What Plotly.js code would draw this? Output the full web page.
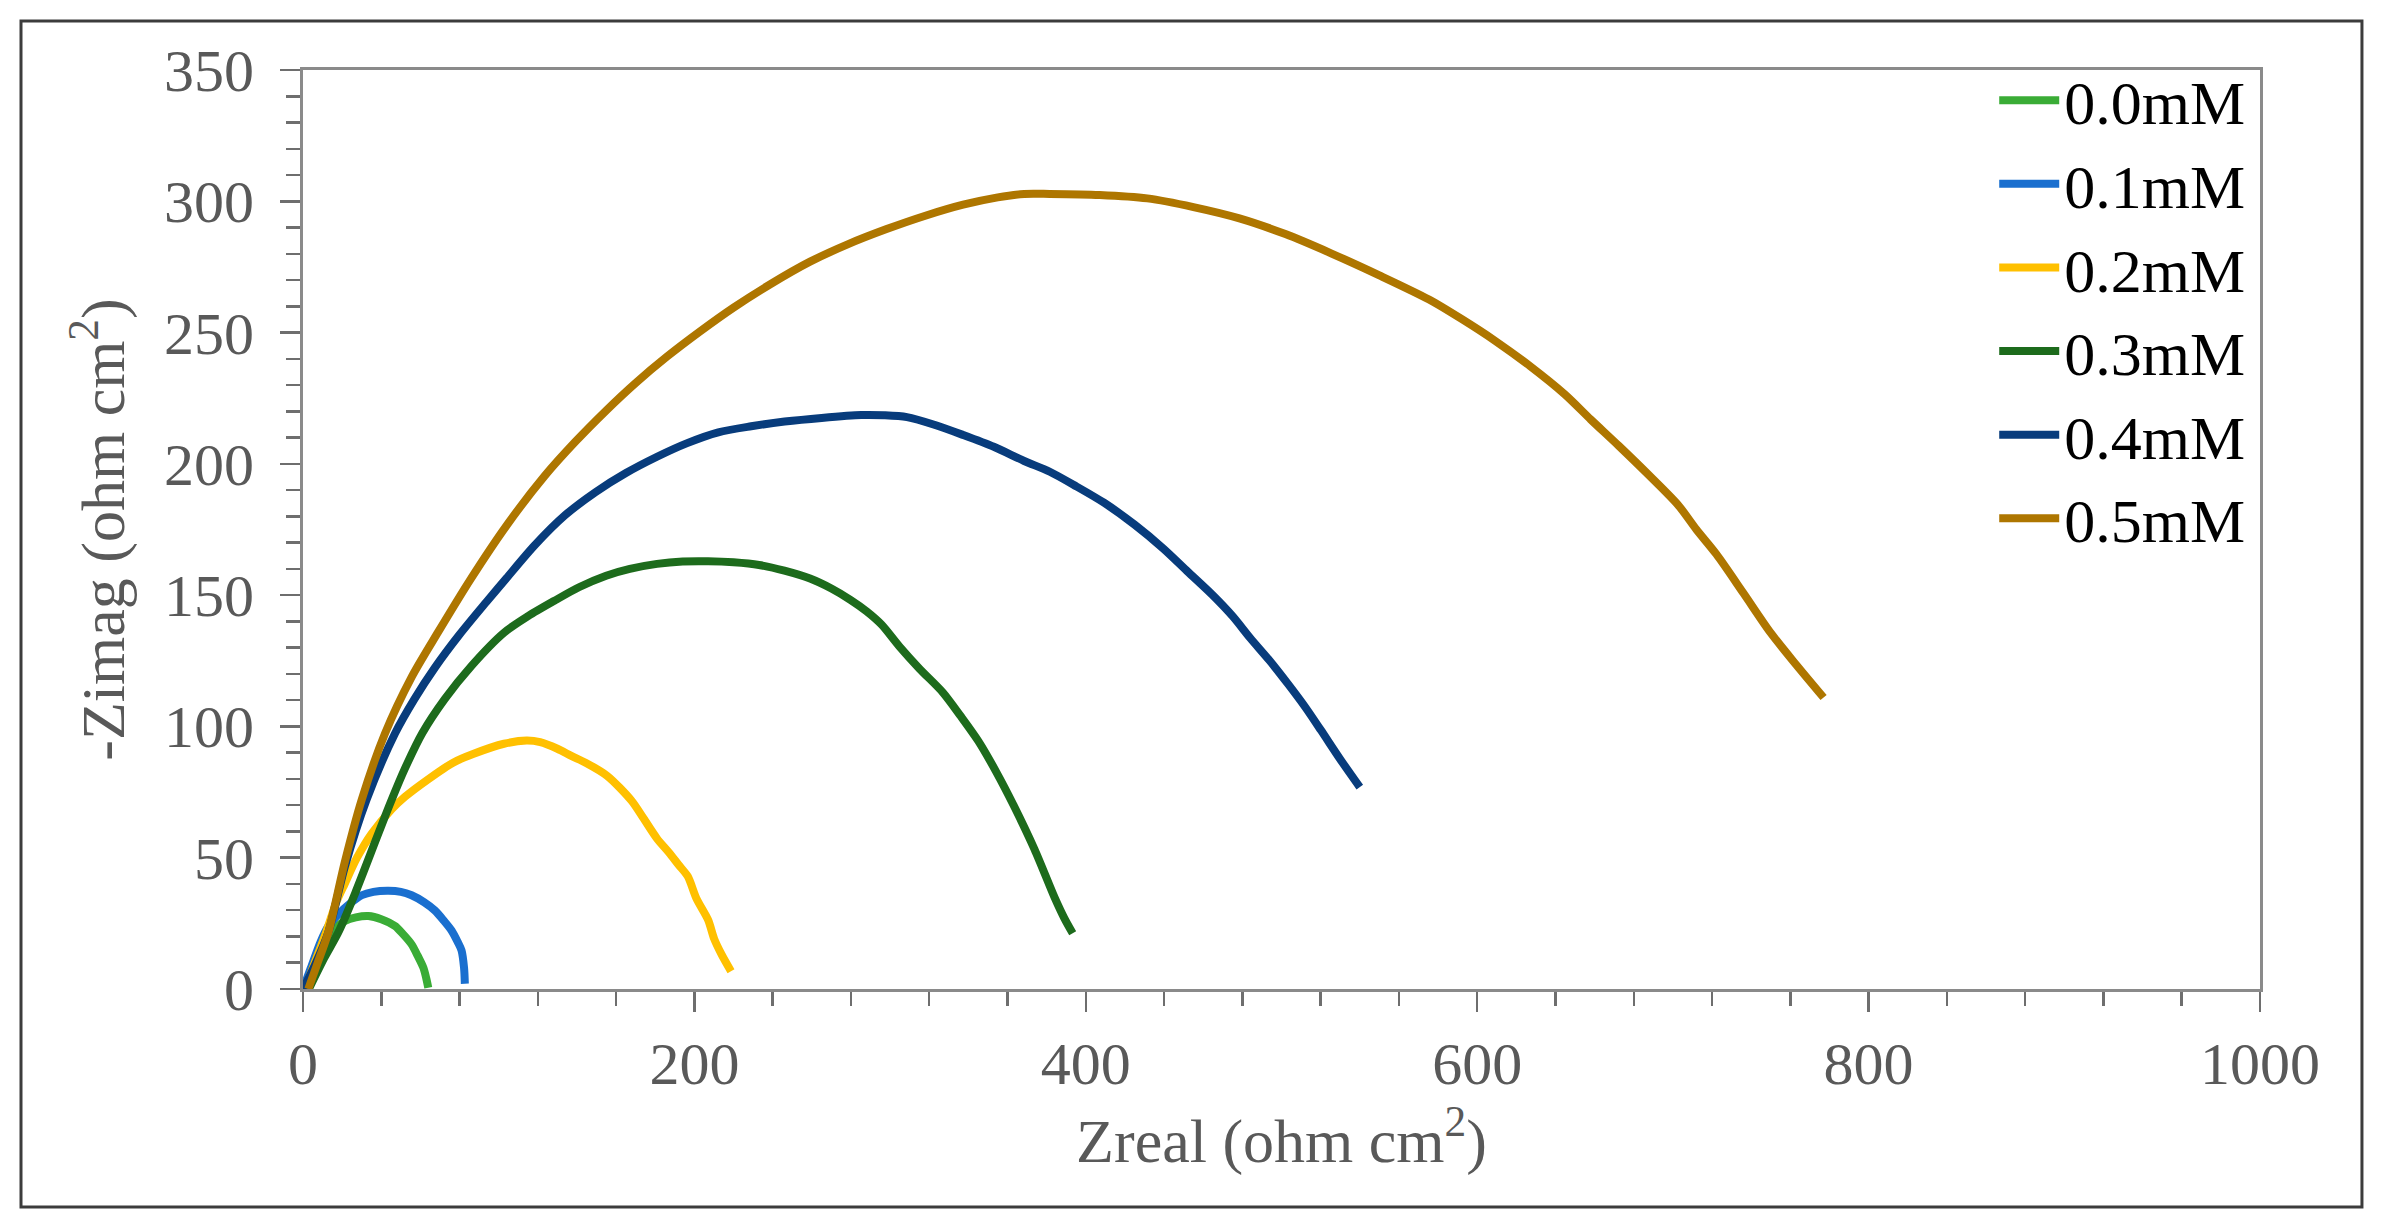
<!DOCTYPE html>
<html>
<head>
<meta charset="utf-8">
<script src="https://cdn.plot.ly/plotly-3.0.1.min.js"></script>
<style>
  html, body { margin: 0; padding: 0; background: #fff; }
  #graph { width: 2386px; height: 1227px; }
</style>
</head>
<body>
<div id="graph"></div>
<script>
// Nyquist data (Zreal, -Zimag in ohm cm2)
var labels = ['0.0mM', '0.1mM', '0.2mM', '0.3mM', '0.4mM', '0.5mM'];
var colors = ['#3aac36', '#1a6fcf', '#ffc000', '#1d6b1c', '#083c7c', '#ae7600'];

var x00 = [2, 7, 11.7, 15, 21.4, 27, 33.4, 40, 47, 51, 55.5, 58.5, 61.5, 63, 64];
var y00 = [0, 9, 17, 22, 25.9, 27.3, 27.8, 26.6, 24, 21, 17, 12.8, 8.1, 4, 0.5];

var x01 = [0, 4, 9, 13, 18.4, 24, 30, 36, 43.6, 50, 55.5, 62, 67.4, 72, 75.9, 79, 81, 82.3, 82.7];
var y01 = [0, 8, 18, 24, 28.7, 32.5, 35.7, 37, 37.4, 37, 35.7, 33, 29.9, 26, 22.3, 18, 14.7, 8, 2];

var x02 = [1, 6, 12, 17, 21.4, 27.6, 35.1, 45.4, 52.1, 64.2, 76.7, 86.9, 102.7, 114.3, 121.2, 130, 137.1, 144.4, 155.4, 167.9, 174, 180.9, 187, 191.9, 196.6, 201, 207, 210.1, 214, 218.7];
var y02 = [0, 10, 22, 33, 40.2, 50, 59.2, 68.5, 73.2, 80, 86.2, 89.5, 93.4, 94.6, 94, 91.5, 88.8, 86.2, 81.2, 71.7, 65, 57.3, 52, 47.3, 42.9, 34.5, 26.3, 19.1, 13, 6.8];

var x03 = [3, 11, 18, 26.6, 38.5, 45, 52.1, 61, 72.5, 86, 102.7, 115, 128.8, 141, 154.9, 167, 180.9, 194, 207, 220, 233, 246, 259.1, 270, 279.9, 288, 295.6, 304.7, 315, 326.9, 336, 345.1, 354, 363.3, 373.8, 384.2, 389, 393.3];
var y03 = [0, 12, 21.5, 36.4, 59.2, 71.5, 84, 97.5, 110.5, 123, 135.7, 142, 148, 153, 157.4, 160, 161.9, 162.8, 162.9, 162.5, 161.5, 159.3, 156.3, 152.5, 148.1, 143.8, 138.8, 130.5, 122, 113, 104, 94.4, 83, 69.7, 53.2, 34.6, 27, 21.2];

var x04 = [0, 6, 12.9, 21.4, 32.5, 47, 57, 67.4, 80, 93.8, 104, 118.4, 134, 149.6, 165, 180.9, 196, 212.2, 229, 246.1, 265, 285.2, 297, 308.6, 323, 337.3, 353, 368.5, 381.6, 395, 409.3, 425, 439.7, 452, 464.7, 475, 484.1, 494, 503.4, 512, 520.1, 530, 540];
var y04 = [0, 9, 21.5, 46.6, 72.1, 97.3, 110.5, 122.4, 135, 147.5, 156.5, 169, 180.5, 189.3, 196.5, 202.7, 207.8, 212, 214.3, 216.1, 217.5, 218.6, 218.5, 217.8, 214.8, 211, 206.5, 201.1, 197, 191.5, 185.2, 176.8, 167.7, 159, 150.1, 142, 133.6, 125, 116.1, 107.5, 98.6, 87.5, 76.9];

var x05 = [2.7, 7.5, 12.9, 21.4, 30, 41.9, 55.5, 69.1, 86, 104, 123.6, 139, 154.9, 170, 186.1, 203, 220, 239, 259.1, 278, 298.2, 318, 337.3, 355, 368.5, 381.6, 407.1, 431.4, 455, 478.5, 502, 525.6, 550, 575.4, 592, 608.7, 627, 644.7, 658, 672.3, 688, 702.8, 712, 722.2, 736, 749.9, 763, 777];
var y05 = [0, 10, 21.5, 48.5, 72.1, 97.3, 118.8, 136, 156.5, 176.5, 195.5, 208.3, 220.3, 230.8, 240.9, 250.5, 259.5, 268.5, 277, 283.5, 289.4, 294.5, 298.7, 301.5, 302.8, 302.8, 302.4, 301.1, 297.8, 293.5, 287.5, 280.1, 271.8, 262.6, 255.2, 247.1, 237.2, 226.5, 216.9, 206.9, 195.5, 184.2, 175, 165.6, 150.8, 135.7, 123.5, 111];

var xSeries = [x00, x01, x02, x03, x04, x05];
var ySeries = [y00, y01, y02, y03, y04, y05];

var serif = 'Liberation Serif, Times New Roman, serif';
var tickGrey = '#595959';

var data = labels.map((name, i) => ({
    x: xSeries[i],
    y: ySeries[i],
    name: name,
    type: 'scatter',
    mode: 'lines',
    line: { color: colors[i], width: 8, shape: 'spline', smoothing: 0.8 },
    hoverinfo: 'skip'
}));

var axisCommon = {
    showgrid: false,
    zeroline: false,
    showline: true,
    mirror: true,
    linecolor: '#8a8a8a',
    linewidth: 3,
    ticks: 'outside',
    ticklen: 20,
    tickwidth: 2.5,
    tickcolor: '#6e6e6e',
    tickfont: { family: serif, size: 60, color: tickGrey },
    automargin: false
};

var layout = {
    width: 2386,
    height: 1227,
    margin: { l: 303, r: 126, t: 70, b: 238 },
    paper_bgcolor: '#ffffff',
    plot_bgcolor: '#ffffff',
    showlegend: true,
    xaxis: Object.assign({}, axisCommon, {
        range: [0, 1000],
        dtick: 200,
        tick0: 0,
        minor: { dtick: 40, ticks: 'outside', ticklen: 14, tickwidth: 2.5, tickcolor: '#6e6e6e', showgrid: false },
        title: { text: 'Zreal (ohm cm<sup>2</sup>)', font: { family: serif, size: 62, color: tickGrey }, standoff: 20 }
    }),
    yaxis: Object.assign({}, axisCommon, {
        range: [0, 350],
        dtick: 50,
        tick0: 0,
        ticklabelstandoff: 14,
        minor: { dtick: 10, ticks: 'outside', ticklen: 14, tickwidth: 2.5, tickcolor: '#6e6e6e', showgrid: false },
        title: { text: '-Zimag (ohm cm<sup>2</sup>)', font: { family: serif, size: 62, color: tickGrey }, standoff: 20 }
    }),
    legend: {
        x: 0.995,
        xanchor: 'right',
        y: 1.018,
        yanchor: 'top',
        bgcolor: 'rgba(0,0,0,0)',
        font: { family: serif, size: 62, color: '#000000' },
        itemwidth: 60,
        tracegroupgap: 0
    },
    shapes: [{
        type: 'rect',
        xref: 'paper', yref: 'paper',
        x0: -0.1441, x1: 1.0521,
        y0: -0.2372, y1: 1.0533,
        line: { color: '#3c3c3c', width: 3 },
        fillcolor: 'rgba(0,0,0,0)',
        layer: 'below'
    }]
};

Plotly.newPlot('graph', data, layout, { staticPlot: true, displayModeBar: false });
</script>
</body>
</html>
